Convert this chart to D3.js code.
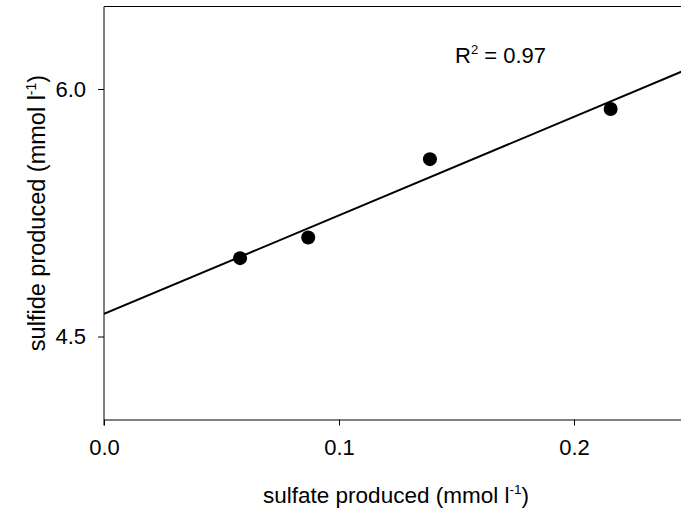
<!DOCTYPE html>
<html>
<head>
<meta charset="utf-8">
<script src="https://cdn.jsdelivr.net/npm/d3@7"></script>
<style>
  html, body { margin: 0; padding: 0; background: #fff; }
  svg { display: block; }
  text { font-family: "Liberation Sans", Arial, sans-serif; fill: #000; }
</style>
</head>
<body>
<svg id="chart" width="681" height="510"></svg>
<script>
// Data
const sulfate = [0.0579, 0.0869, 0.1387, 0.2156];   // x: sulfate produced (mmol l-1)
const sulfide = [4.975, 5.10, 5.575, 5.879];        // y: sulfide produced (mmol l-1)
const xTicks = [0.0, 0.1, 0.2];
const yTicks = [4.5, 6.0];
const xDomain = [0, 0.25];
const yDomain = [4.0, 6.5];
const r2Label = "0.97";

const svg = d3.select("#chart");
const plotLeft = 104, plotTop = 6.5, plotBottom = 419;
const plotRight = 691.5;

const x = d3.scaleLinear().domain(xDomain).range([plotLeft, plotRight]);
const y = d3.scaleLinear().domain(yDomain).range([plotBottom, plotTop]);

// Linear regression fit
const n = sulfate.length;
const mx = d3.mean(sulfate), my = d3.mean(sulfide);
let sxy = 0, sxx = 0;
for (let i = 0; i < n; i++) {
  sxy += (sulfate[i] - mx) * (sulfide[i] - my);
  sxx += (sulfate[i] - mx) ** 2;
}
const slope = sxy / sxx;
const intercept = my - slope * mx;

svg.append("defs").append("clipPath").attr("id", "plotclip")
  .append("rect").attr("x", plotLeft).attr("y", plotTop)
  .attr("width", plotRight - plotLeft).attr("height", plotBottom - plotTop);

// Top frame line
svg.append("line")
  .attr("x1", plotLeft).attr("x2", plotRight)
  .attr("y1", plotTop).attr("y2", plotTop)
  .attr("stroke", "#000").attr("stroke-width", 1);

// Regression line
const fitX = [xDomain[0], xDomain[1]];
svg.append("path")
  .attr("clip-path", "url(#plotclip)")
  .attr("d", d3.line().x(d => x(d)).y(d => y(intercept + slope * d))(fitX))
  .attr("stroke", "#000").attr("stroke-width", 2).attr("fill", "none");

// Points
svg.append("g").selectAll("circle")
  .data(sulfate.map((v, i) => [v, sulfide[i]]))
  .join("circle")
  .attr("cx", d => x(d[0])).attr("cy", d => y(d[1]))
  .attr("r", 7).attr("fill", "#000");

// X axis
const xAxis = d3.axisBottom(x).tickValues(xTicks).tickFormat(d3.format(".1f"))
  .tickSize(6).tickSizeOuter(0).tickPadding(14);
const gx = svg.append("g").attr("transform", `translate(0,${plotBottom + 0.5})`).call(xAxis);
gx.select(".domain").attr("stroke", "#000").attr("stroke-width", 1);
gx.selectAll(".tick line").attr("stroke", "#000");
gx.selectAll(".tick text").attr("font-size", 22).attr("fill", "#000");

// Y axis
const yAxis = d3.axisLeft(y).tickValues(yTicks).tickFormat(d3.format(".1f"))
  .tickSize(6).tickSizeOuter(0).tickPadding(12);
const gy = svg.append("g").attr("transform", `translate(${plotLeft},0)`).call(yAxis);
gy.select(".domain").attr("stroke", "#000").attr("stroke-width", 1)
  .attr("d", `M0,${plotTop}V${plotBottom + 6.5}`);
gy.selectAll(".tick line").attr("stroke", "#000");
gy.selectAll(".tick text").attr("font-size", 22).attr("fill", "#000");

// X title
const xt = svg.append("text")
  .attr("x", 396).attr("y", 503)
  .attr("text-anchor", "middle").attr("font-size", 22.5);
xt.append("tspan").text("sulfate produced (mmol l");
xt.append("tspan").attr("font-size", 13.5).attr("dy", -9).text("-1");
xt.append("tspan").attr("dy", 9).text(")");

// Y title
const yt = svg.append("text")
  .attr("transform", "translate(45,213) rotate(-90)")
  .attr("text-anchor", "middle").attr("font-size", 23.5);
yt.append("tspan").text("sulfide produced (mmol l");
yt.append("tspan").attr("font-size", 14).attr("dy", -9.5).text("-1");
yt.append("tspan").attr("dy", 9.5).text(")");

// R² annotation
const rt = svg.append("text")
  .attr("x", 455).attr("y", 63).attr("font-size", 22);
rt.append("tspan").text("R");
rt.append("tspan").attr("font-size", 13).attr("dy", -9).text("2");
rt.append("tspan").attr("dy", 9).text(" = " + r2Label);
</script>
</body>
</html>
